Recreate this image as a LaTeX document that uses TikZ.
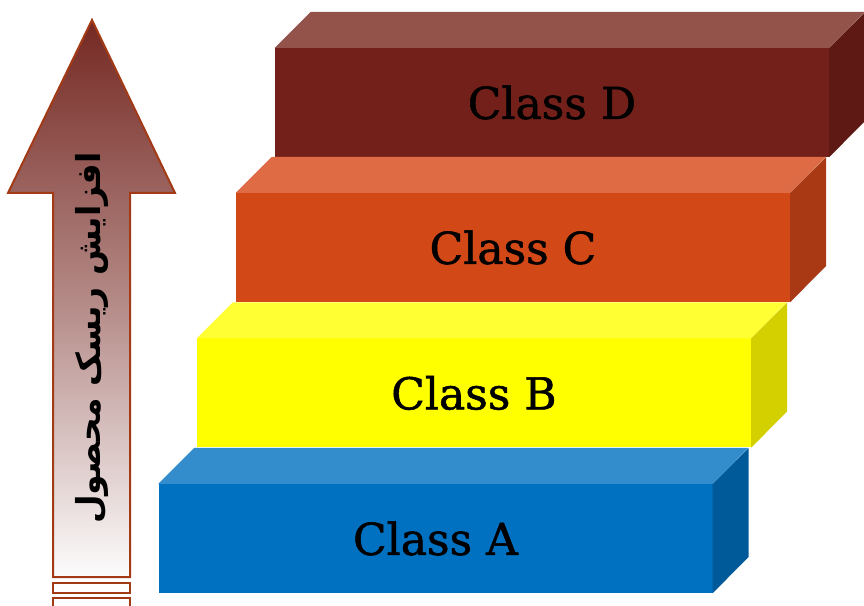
\documentclass[tikz,border=0pt]{standalone}
\usepackage{fontspec}
\TeXXeTstate=1
\newfontfamily\arabicfont[Script=Arabic]{DejaVu Sans}
\newfontfamily\labelfont[FakeBold=1.2]{DejaVu Serif}
\definecolor{dFront}{RGB}{115,32,26}
\definecolor{dTop}{RGB}{147,82,74}
\definecolor{dSide}{RGB}{94,25,20}
\definecolor{cFront}{RGB}{210,72,23}
\definecolor{cTop}{RGB}{222,107,68}
\definecolor{cSide}{RGB}{168,57,20}
\definecolor{bFront}{RGB}{255,255,0}
\definecolor{bTop}{RGB}{255,255,51}
\definecolor{bSide}{RGB}{212,208,0}
\definecolor{aFront}{RGB}{0,112,192}
\definecolor{aTop}{RGB}{51,141,204}
\definecolor{aSide}{RGB}{0,90,154}
\definecolor{arrowEdge}{RGB}{163,58,22}
\definecolor{arrowTop}{RGB}{117,40,34}
\definecolor{arrowBot}{RGB}{252,252,252}
\tikzset{
  stepbox/.style={minimum width=554pt, minimum height=109pt, inner sep=0pt, draw=none,
    font=\labelfont\fontsize{44}{48}\selectfont, text=black},
  arrowline/.style={draw=arrowEdge, line width=2pt},
}
\begin{document}
\begin{tikzpicture}[x=1pt,y=1pt]
\useasboundingbox (0,0) rectangle (864,605);
% boxes
\foreach \nm/\low/\cx/\cy/\lab in {D/d/552/502.5/Class D, C/c/513/357.5/Class C, B/b/474/212/Class B, A/a/435.5/66.5/Class A}{
  \node[stepbox, fill=\low Front] (box\nm) at (\cx,\cy) {\lab};
  \fill[\low Top] (box\nm.north west) -- ++(36pt,36pt) -- ++(554pt,0pt) -- (box\nm.north east) -- cycle;
  \fill[\low Side] (box\nm.north east) -- ++(36pt,36pt) -- ++(0pt,-109pt) -- (box\nm.south east) -- cycle;
}
% arrow
\shade[top color=arrowTop, bottom color=arrowBot, middle color=arrowTop!55!white]
  (92,585) -- (175,412) -- (130,412) -- (130,28) -- (53,28) -- (53,412) -- (8,412) -- cycle;
\draw[arrowline, line join=miter]
  (92,585) -- (175,412) -- (130,412) -- (130,28) -- (53,28) -- (53,412) -- (8,412) -- cycle;
\draw[arrowline, fill=white] (53,12) rectangle (130,22);
\draw[arrowline, fill=white] (53,-3) rectangle (130,7);
\node[rotate=90, inner sep=0pt, font=\arabicfont\bfseries\fontsize{33}{36}\selectfont] (risk) at (92,267)
  {\beginR افزایش ریسک محصول\endR};
\end{tikzpicture}
\end{document}
